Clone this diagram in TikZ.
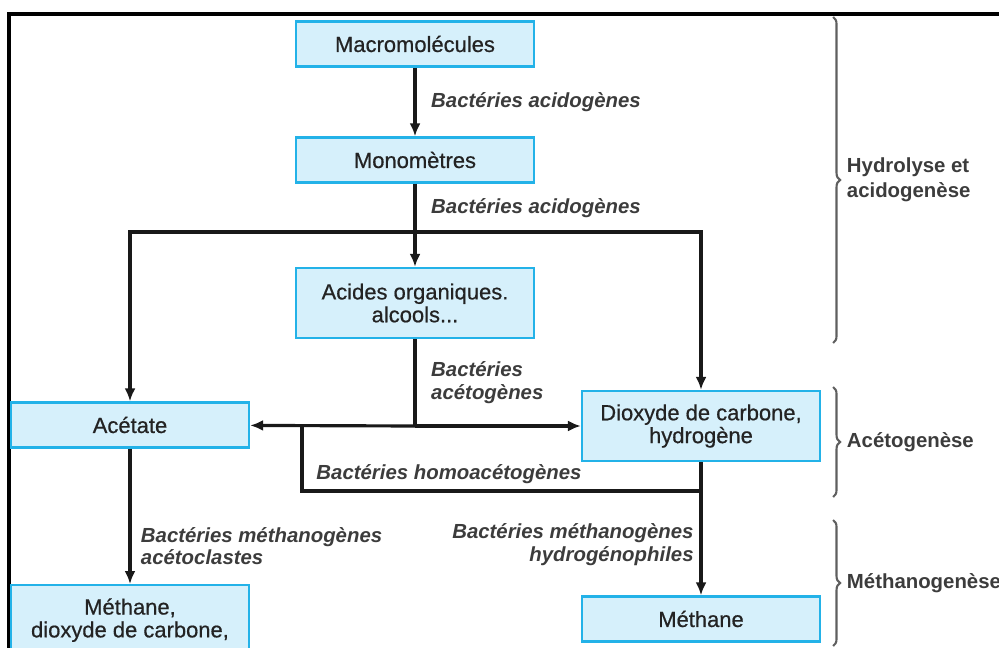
\documentclass[tikz,border=0pt]{standalone}
\usepackage{fontspec}
\setmainfont{Liberation Sans}
\newfontfamily\boxfont[FakeBold=0.6]{Liberation Sans}
\usepackage{xcolor}
\usetikzlibrary{positioning, arrows.meta, decorations.pathreplacing}

\definecolor{boxfill}{RGB}{214,240,251}
\definecolor{boxline}{RGB}{35,178,232}
\definecolor{inkgray}{RGB}{35,35,35}
\definecolor{labelgray}{RGB}{60,60,60}
\definecolor{bracegray}{RGB}{95,95,95}

\tikzset{
    stage/.style={draw=boxline, fill=boxfill, line width=1.3pt, text=inkgray,
        minimum width=4.76cm, minimum height=0.9cm, align=center,
        font=\boxfont\fontsize{12.5}{13}\selectfont},
    stagetall/.style={stage, minimum height=1.4cm},
    flowline/.style={line width=1.8pt, black!90},
    flow/.style={flowline, -{Latex[length=2.6mm, width=2.2mm]}},
    bact/.style={text=labelgray, font=\fontsize{11.6}{12.8}\selectfont\bfseries\itshape},
    phase/.style={text=labelgray, align=left, xshift=4pt,
        font=\fontsize{11.6}{14}\selectfont\bfseries},
    phasebrace/.style={draw=bracegray, line width=1.2pt,
        decorate, decoration={brace, amplitude=4pt}}
}

\begin{document}
\begin{tikzpicture}[x=0.02cm, y=-0.02cm]
        \useasboundingbox (0,0) rectangle (999,648);
        \clip (0,0) rectangle (999,648);
        \draw[line width=2.2pt] (9,650) -- (9,14) -- (1001,14);

        \node[stage] (macro) at (415,44) {Macromolécules};
        \node[stage] (mono) at (415,160) {Monomètres};
        \node[stagetall] (acides) at (415,303) {Acides organiques.\\alcools...};
        \node[stage] (acetate) at (130,425) {Acétate};
        \node[stagetall] (dioxyde) at (701,426) {Dioxyde de carbone,\\hydrogène};
        \node[stage] (methane) at (701,619) {Méthane};
        \node[stagetall, anchor=north] (mix) at (130,584) {Méthane,\\dioxyde de carbone,};

        \coordinate (split) at (415,232);
        \coordinate (join) at (415,426);
        \coordinate (homo) at (302,426);
        \coordinate (hbend) at (302,491);

        \draw[flow] (macro) to node[bact, right, xshift=5pt] {Bactéries acidogènes} (mono);
        \draw[flowline] (mono) to node[bact, right, xshift=5pt] {Bactéries acidogènes} (split);
        \draw[flow] (split) to (acides);
        \draw[flow] (split) -| (acetate);
        \draw[flow] (split) -| (dioxyde);

        \draw[flowline] (acides) to node[bact, right, xshift=5pt, align=left] {Bactéries\\acétogènes} (join);
        \draw[flow] (join) to (acetate);
        \draw[flow] (join) to (dioxyde);

        \draw[flowline] (dioxyde.south) |- (hbend) node[bact, above right, xshift=4pt] {Bactéries homoacétogènes} -- (homo);

        \draw[flow] (acetate) to node[bact, right, pos=0.72, xshift=2pt, align=left] {Bactéries méthanogènes\\acétoclastes} (mix);
        \draw[flow] (dioxyde) to node[bact, left, pos=0.62, align=right] {Bactéries méthanogènes\\hydrogénophiles} (methane);

        \draw[phasebrace] (833,17) -- node[phase, right] (hydro) {Hydrolyse et\\acidogenèse} (833,343);
        \draw[phasebrace] (833,387) -- node[phase, right] (aceto) {Acétogenèse} (833,497);
        \draw[phasebrace] (833,520) -- node[phase, right] (metha) {Méthanogenèse} (833,646);
    \end{tikzpicture}
\end{document}
